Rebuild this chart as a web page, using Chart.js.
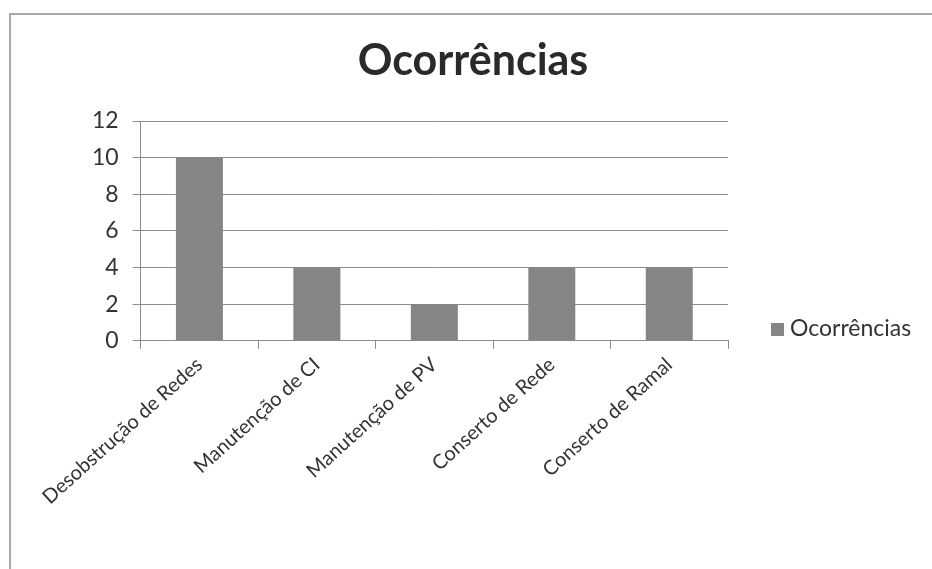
<!DOCTYPE html>
<html>
<head>
<meta charset="utf-8">
<script src="https://cdn.jsdelivr.net/npm/chart.js@4"></script>
<style>
  html, body { margin: 0; padding: 0; background: #fff; }
  #wrap { position: relative; width: 932px; height: 569px; }
  #frame { position: absolute; left: 9px; top: 13px; right: 0; bottom: 0;
           border-left: 2px solid #a8a8a8; border-top: 2px solid #a8a8a8; }
  #ocChart { position: absolute; left: 0; top: 0; }
  #title { position: absolute; left: 273px; width: 400px; top: 33px; text-align: center;
           font: bold 43px/1.2 Lato, sans-serif; color: #2a2a2a; }
  #legend { position: absolute; left: 771px; top: 313px; font: 23px Lato, sans-serif; color: #333; white-space: nowrap; }
  #legend span.box { display: inline-block; width: 13px; height: 13px; margin-right: 6px; vertical-align: 0px; }
</style>
</head>
<body>
<div id="wrap">
  <div id="frame"></div>
  <canvas id="ocChart" width="932" height="569"></canvas>
  <div id="title"></div>
  <div id="legend"></div>
</div>
<script>
const categories = ['Desobstrução de Redes', 'Manutenção de CI', 'Manutenção de PV', 'Conserto de Rede', 'Conserto de Ramal'];
const ocorrencias = [10, 4, 2, 4, 4];
const seriesName = 'Ocorrências';
const chartTitle = 'Ocorrências';
const barColor = '#858585';

const ctx = document.getElementById('ocChart').getContext('2d');

new Chart(ctx, {
    type: 'bar',
    data: {
        labels: categories,
        datasets: [{
            label: seriesName,
            data: ocorrencias,
            backgroundColor: barColor,
            barPercentage: 0.4,
            categoryPercentage: 1,
        }],
    },
    options: {
        responsive: false,
        animation: false,
        layout: {
            padding: { left: 78, right: 204, top: 121, bottom: 56 },
        },
        plugins: {
            legend: { display: false },
            tooltip: { enabled: false },
            title: { display: false },
        },
        scales: {
            y: {
                min: 0,
                max: 12,
                ticks: {
                    stepSize: 2,
                    color: '#333',
                    padding: 14,
                    font: { family: 'Lato', size: 23 },
                },
                grid: { color: '#8c8c8c', tickLength: 8, tickColor: '#8c8c8c' },
                border: { color: '#8c8c8c' },
            },
            x: {
                ticks: {
                    minRotation: 42,
                    maxRotation: 42,
                    color: '#333',
                    padding: 4,
                    font: { family: 'Lato', size: 20 },
                },
                grid: { drawOnChartArea: false, tickLength: 8, tickColor: '#8c8c8c' },
                border: { color: '#8c8c8c' },
            },
        },
    },
});

// Title and legend as page text
document.getElementById('title').textContent = chartTitle;
const legend = document.getElementById('legend');
legend.innerHTML = `<span class="box" style="background:${barColor}"></span>${seriesName}`;
</script>
</body>
</html>
